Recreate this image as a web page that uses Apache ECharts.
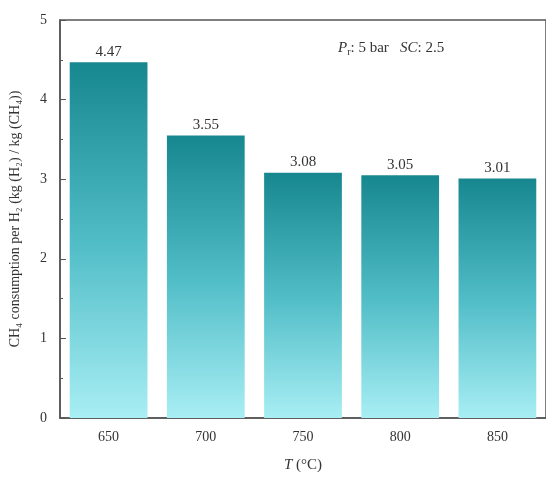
<!DOCTYPE html>
<html><head><meta charset="utf-8">
<script src="https://cdn.jsdelivr.net/npm/echarts@6/dist/echarts.min.js"></script>
<style>html,body{margin:0;padding:0;background:#fff}#c{width:546px;height:480px}</style>
</head><body><div id="c"></div>
<script>
var categories = ['650', '700', '750', '800', '850'];
var values = [4.47, 3.55, 3.08, 3.05, 3.01];
var valueLabels = ['4.47', '3.55', '3.08', '3.05', '3.01'];
var yTicks = [0, 1, 2, 3, 4, 5];

var font = 'Liberation Serif';
var chart = echarts.init(document.getElementById('c'));
var axisColor = '#555';
chart.setOption({
  backgroundColor: '#fff',
  animation: false,
  title: {
    left: 333, top: 34,
    text: '{i|P}{s|r}{n|: 5 bar   }{i|SC}{n|: 2.5}',
    textStyle: {
      fontFamily: font, fontSize: 15, color: '#333', fontWeight: 'normal',
      rich: {
        i: {fontFamily: font, fontStyle: 'italic', fontWeight: 'normal', fontSize: 15, color: '#333'},
        n: {fontFamily: font, fontWeight: 'normal', fontSize: 15, color: '#333'},
        s: {fontFamily: font, fontWeight: 'normal', fontSize: 10, color: '#333', padding: [8, 0, 0, 0]}
      }
    }
  },
  grid: {left: 60, width: 490, top: 20, height: 398, show: true, borderColor: axisColor, borderWidth: 1.5},
  xAxis: [{
    type: 'category', data: categories,
    name: '{i|T} ({n|°C})', nameLocation: 'middle', nameGap: 40,
    nameTextStyle: {fontFamily: font, fontSize: 15, color: '#333',
      rich: {i: {fontFamily: font, fontStyle: 'italic', fontSize: 15, color: '#333'}, n: {fontFamily: font, fontSize: 15, color: '#333'}}},
    axisLine: {lineStyle: {color: axisColor, width: 1.5}},
    axisTick: {inside: true, alignWithLabel: true, length: 6, lineStyle: {color: axisColor}},
    axisLabel: {fontFamily: font, fontSize: 14, color: '#333', margin: 12}
  }, {
    type: 'category', data: categories, position: 'bottom',
    axisLine: {show: false},
    axisTick: {inside: true, length: 3, lineStyle: {color: axisColor}},
    axisLabel: {show: false}
  }],
  yAxis: {
    type: 'value', min: 0, max: 5, interval: 1,
    name: 'CH\u2084 consumption per H\u2082 (kg (H\u2082) / kg (CH\u2084))',
    nameLocation: 'middle', nameGap: 38,
    nameTextStyle: {fontFamily: font, fontSize: 14, color: '#333'},
    axisLine: {show: true, lineStyle: {color: axisColor, width: 1.5}},
    axisTick: {show: true, inside: true, length: 6, lineStyle: {color: axisColor}},
    minorTick: {show: true, splitNumber: 2, length: 3, lineStyle: {color: axisColor}},
    splitLine: {show: false},
    axisLabel: {fontFamily: font, fontSize: 14, color: '#333', margin: 13,
      formatter: function (v) { return yTicks.indexOf(v) >= 0 ? String(v) : ''; }}
  },
  series: [{
    type: 'bar', data: values, barWidth: '80%',
    itemStyle: {
      color: new echarts.graphic.LinearGradient(0, 0, 0, 1, [
        {offset: 0, color: '#17878f'},
        {offset: 0.5, color: '#4fbcc6'},
        {offset: 1, color: '#a8eef4'}
      ])
    },
    label: {show: true, position: 'top', distance: 3, fontFamily: font, fontSize: 15, color: '#333',
      formatter: function (p) { return valueLabels[p.dataIndex]; }}
  }]
});
</script></body></html>
